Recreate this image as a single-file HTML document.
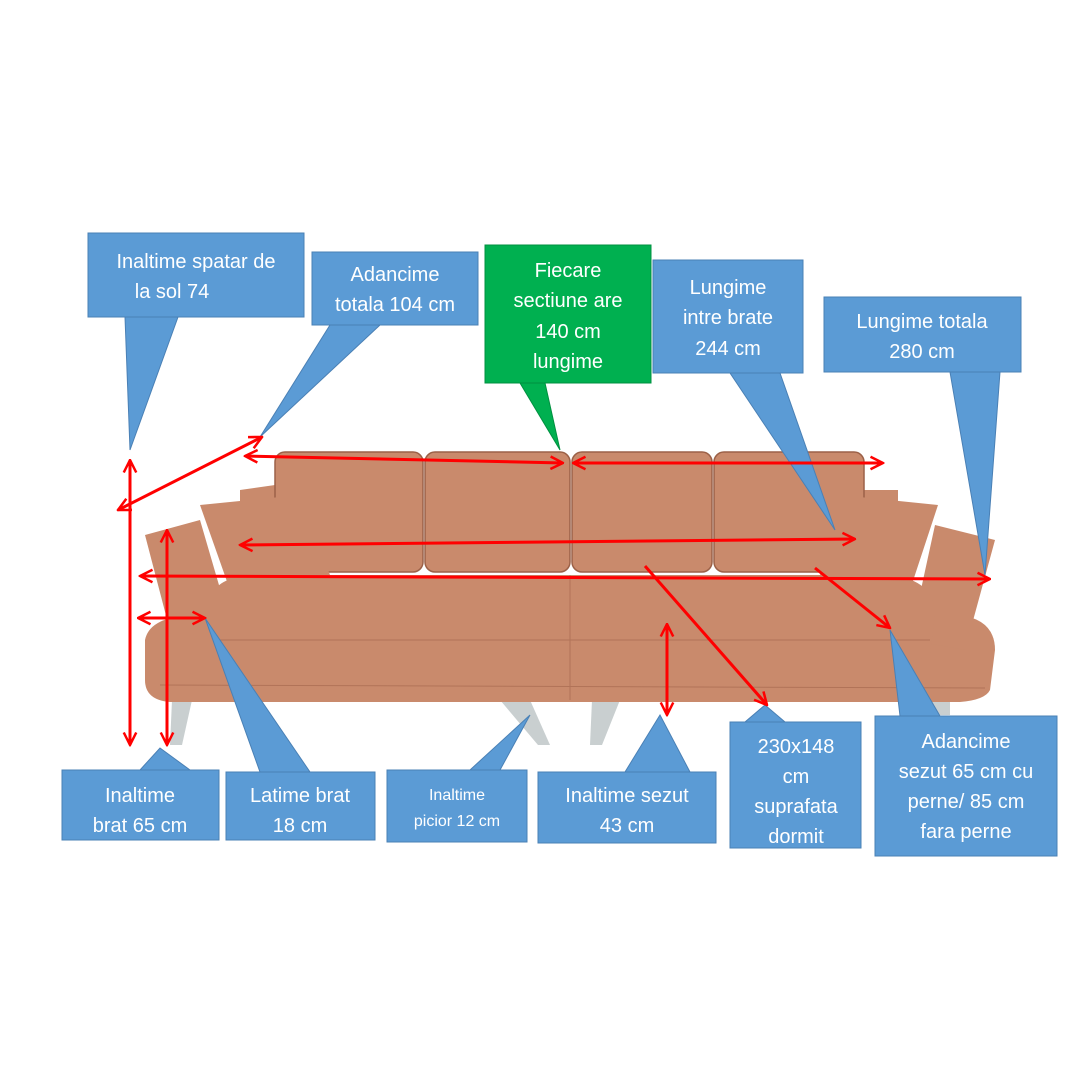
<!DOCTYPE html>
<html><head><meta charset="utf-8"><style>
body{margin:0;background:#fff}
svg{display:block}
text{font-family:"Liberation Sans",sans-serif;fill:#fff;font-size:20px;text-anchor:middle}
</style></head><body>
<svg width="1080" height="1080" viewBox="0 0 1080 1080">
<defs>
<marker id="a" viewBox="0 0 12 12" refX="11" refY="6" markerWidth="5" markerHeight="5" orient="auto-start-reverse" markerUnits="strokeWidth">
<path d="M1,1 L11,6 L1,11" fill="none" stroke="#f00" stroke-width="2"/></marker>
</defs>
<rect width="1080" height="1080" fill="#fff"/>
<g fill="#c9cfd0">
<polygon points="172,700 192,700 182,745 170,745"/>
<polygon points="500,700 530,700 550,745 538,745"/>
<polygon points="592,700 620,700 602,745 590,745"/>
<polygon points="930,700 950,700 950,715 940,715"/>
</g>
<g fill="#c98a6c">
<path d="M145,640 Q150,615 200,615 L960,615 Q995,620 995,650 L990,690 Q985,700 960,702 L170,702 Q145,700 145,680 Z"/>
<path d="M240,490 L275,485 L275,560 L240,560 Z"/>
<path d="M862,490 L898,490 L898,560 L862,560 Z"/>
<path d="M145,535 L200,520 L235,640 L175,650 Z"/>
<path d="M995,540 L935,525 L910,640 L965,650 Z"/>
</g>
<g fill="#c98a6c" stroke="#9c6148" stroke-width="1.5">
<rect x="275" y="452" width="148" height="120" rx="10"/>
<rect x="425" y="452" width="145" height="120" rx="10"/>
<rect x="572" y="452" width="140" height="120" rx="10"/>
<rect x="714" y="452" width="150" height="120" rx="10"/>
</g>
<g fill="#c98a6c">
<path d="M200,505 L300,495 L330,575 L230,590 Z"/>
<path d="M840,495 L938,505 L910,590 L820,575 Z"/>
<path d="M210,600 Q215,575 260,575 L890,575 Q935,580 935,615 L930,655 Q920,662 880,662 L220,662 Q205,655 208,630 Z"/>
</g>
<g stroke="#a86a50" stroke-width="1" fill="none" opacity="0.7">
<line x1="570" y1="575" x2="570" y2="700"/>
<line x1="215" y1="640" x2="930" y2="640"/>
<line x1="160" y1="685" x2="985" y2="688"/>
</g>
<g fill="#5b9bd5" stroke="#4a80b5" stroke-width="1">
<polygon points="125,317 178,317 130,450"/><rect x="88" y="233" width="216" height="84"/>
<polygon points="330,325 380,325 260,437"/><rect x="312" y="252" width="166" height="73"/>
<polygon points="730,373 780,373 835,530"/><rect x="653" y="260" width="150" height="113"/>
<polygon points="950,372 1000,372 985,575"/><rect x="824" y="297" width="197" height="75"/>
<polygon points="140,770 190,770 160,748"/><rect x="62" y="770" width="157" height="70"/>
<polygon points="260,772 310,772 205,618"/><rect x="226" y="772" width="149" height="68"/>
<polygon points="470,770 500,770 530,715"/><rect x="387" y="770" width="140" height="72"/>
<polygon points="625,772 690,772 660,715"/><rect x="538" y="772" width="178" height="71"/>
<polygon points="745,722 785,722 765,705"/><rect x="730" y="722" width="131" height="126"/>
<polygon points="900,716 940,716 890,630"/><rect x="875" y="716" width="182" height="140"/>
</g>
<g fill="#00b050" stroke="#009040">
<polygon points="520,383 545,383 560,450"/><rect x="485" y="245" width="166" height="138"/>
</g>
<g stroke="#f00" stroke-width="3" fill="none" marker-start="url(#a)" marker-end="url(#a)">
<line x1="130" y1="460" x2="130" y2="745"/>
<line x1="118" y1="510" x2="262" y2="437"/>
<line x1="245" y1="456" x2="563" y2="463"/>
<line x1="573" y1="463" x2="883" y2="463"/>
<line x1="240" y1="545" x2="855" y2="539"/>
<line x1="140" y1="576" x2="990" y2="579"/>
<line x1="167" y1="530" x2="167" y2="745"/>
<line x1="138" y1="618" x2="205" y2="618"/>
<line x1="667" y1="624" x2="667" y2="715"/>
</g>
<g stroke="#f00" stroke-width="3" fill="none" marker-end="url(#a)">
<line x1="645" y1="566" x2="767" y2="705"/>
<line x1="815" y1="568" x2="890" y2="628"/>
</g>
<text x="196" y="268">Inaltime spatar de</text><text x="172" y="298">la sol 74</text>
<text x="395" y="281">Adancime</text><text x="395" y="311">totala 104 cm</text>
<text x="568" y="277">Fiecare</text><text x="568" y="307">sectiune are</text><text x="568" y="338">140 cm</text><text x="568" y="368">lungime</text>
<text x="728" y="294">Lungime</text><text x="728" y="324">intre brate</text><text x="728" y="355">244 cm</text>
<text x="922" y="328">Lungime totala</text><text x="922" y="358">280 cm</text>
<text x="140" y="802">Inaltime</text><text x="140" y="832">brat 65 cm</text>
<text x="300" y="802">Latime brat</text><text x="300" y="832">18 cm</text>
<text x="457" y="800" style="font-size:16px">Inaltime</text><text x="457" y="826" style="font-size:16px">picior 12 cm</text>
<text x="627" y="802">Inaltime sezut</text><text x="627" y="832">43 cm</text>
<text x="796" y="753">230x148</text><text x="796" y="783">cm</text><text x="796" y="813">suprafata</text><text x="796" y="843">dormit</text>
<text x="966" y="748">Adancime</text><text x="966" y="778">sezut 65 cm cu</text><text x="966" y="808">perne/ 85 cm</text><text x="966" y="838">fara perne</text>
</svg>
</body></html>
